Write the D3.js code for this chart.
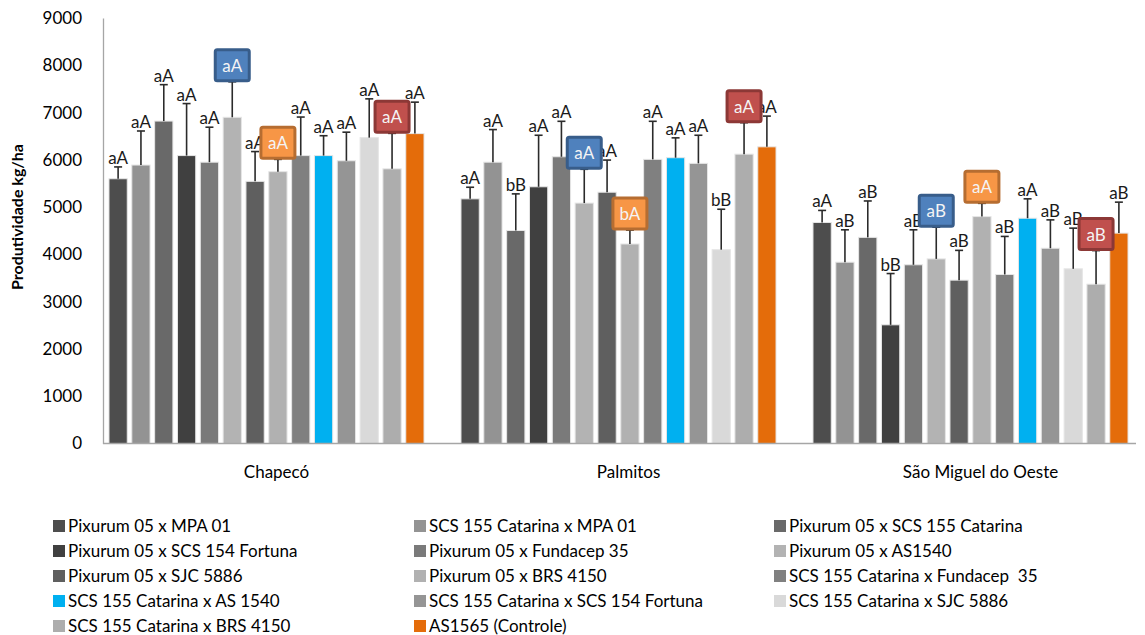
<!DOCTYPE html>
<html>
<head>
<meta charset="utf-8">
<script src="https://cdn.jsdelivr.net/npm/d3@7"></script>
<style>
  body { margin: 0; background: #fff; }
  svg { font-family: Lato, "Open Sans", sans-serif; }
  .leg text { white-space: pre; }
</style>
</head>
<body>
<svg id="chart" width="1145" height="635"></svg>
<script>
// locations on the x axis
var locations = ["Chapecó", "Palmitos", "São Miguel do Oeste"];

// crosses (series), in legend order
var cultivars = [
  "Pixurum 05 x MPA 01", "SCS 155 Catarina x MPA 01", "Pixurum 05 x SCS 155 Catarina",
  "Pixurum 05 x SCS 154 Fortuna", "Pixurum 05 x Fundacep 35", "Pixurum 05 x AS1540",
  "Pixurum 05 x SJC 5886", "Pixurum 05 x BRS 4150", "SCS 155 Catarina x Fundacep  35",
  "SCS 155 Catarina x AS 1540", "SCS 155 Catarina x SCS 154 Fortuna", "SCS 155 Catarina x SJC 5886",
  "SCS 155 Catarina x BRS 4150", "AS1565 (Controle)"
];

var colors = ["#4d4d4d", "#939393", "#696969", "#404040", "#7a7a7a", "#b3b3b3", "#5f5f5f",
              "#b1b1b1", "#808080", "#00b0f0", "#959595", "#d9d9d9", "#adadad", "#e46c0a"];

// mean yield kg/ha
var chapecoMeans  = [5600, 5890, 6820, 6090, 5950, 6900, 5545, 5750, 6090, 6090, 5980, 6470, 5810, 6555];
var palmitosMeans = [5175, 5950, 4505, 5430, 6065, 5085, 5315, 4220, 6010, 6045, 5925, 4100, 6120, 6275];
var smoMeans      = [4675, 3835, 4360, 2510, 3780, 3905, 3455, 4800, 3575, 4765, 4130, 3695, 3370, 4450];

// error bar (plus side)
var chapecoErr  = [250, 720, 770, 1100, 740, 750, 630, 260, 815, 420, 605, 820, 750, 665];
var palmitosErr = [245, 690, 775, 1090, 750, 715, 680, 295, 805, 420, 595, 855, 665, 650];
var smoErr      = [255, 685, 770, 1085, 740, 670, 630, 280, 805, 410, 600, 860, 710, 655];

// significance letters
var chapecoLetters  = ["aA","aA","aA","aA","aA","aA","aA","aA","aA","aA","aA","aA","aA","aA"];
var palmitosLetters = ["aA","aA","bB","aA","aA","aA","aA","bA","aA","aA","aA","bB","aA","aA"];
var smoLetters      = ["aA","aB","aB","bB","aB","aB","aB","aA","aB","aA","aB","aB","aB","aB"];

// highlighted labels (series index -> box colours)
var boxedSeries = [5, 7, 12];
var boxFill   = ["#4f81bd", "#f79646", "#c0504d"];
var boxStroke = ["#385d8a", "#b66d31", "#8c3836"];

var yTicks = [0, 1000, 2000, 3000, 4000, 5000, 6000, 7000, 8000, 9000];

var means = [chapecoMeans, palmitosMeans, smoMeans];
var errs = [chapecoErr, palmitosErr, smoErr];
var letters = [chapecoLetters, palmitosLetters, smoLetters];

var rows = [];
locations.forEach(function(loc, li) {
  cultivars.forEach(function(c, ci) {
    rows.push({loc: loc, ci: ci, name: c, v: means[li][ci], e: errs[li][ci], lab: letters[li][ci]});
  });
});

var svg = d3.select("#chart");
svg.append("rect").attr("width", 1145).attr("height", 635).attr("fill", "#fff");

var y = d3.scaleLinear().domain([0, 9000]).range([443.5, 18]);

var x0 = d3.scaleBand().domain(locations).range([90.5, 1146.5]).paddingInner(0.105).paddingOuter(0.0525);
var x1 = d3.scaleBand().domain(d3.range(cultivars.length)).range([0, x0.bandwidth()]).paddingInner(0.2);

// y axis
var yAxis = svg.append("g")
  .attr("transform", "translate(103,0)")
  .call(d3.axisLeft(y).tickValues(yTicks).tickFormat(d3.format("d")).tickSize(0).tickSizeOuter(0).tickPadding(21));
yAxis.select(".domain").attr("stroke", "#a6a6a6").attr("stroke-width", 1.3);
yAxis.selectAll("text").attr("font-size", 17).attr("fill", "#000").attr("font-family", "Lato");

svg.append("text")
  .attr("transform", "translate(23,217) rotate(-90)")
  .attr("text-anchor", "middle")
  .attr("font-size", 16)
  .attr("font-weight", "bold")
  .text("Produtividade kg/ha");

// bars
var bars = svg.append("g");
bars.selectAll("rect").data(rows).enter().append("rect")
  .attr("x", function(d) { return x0(d.loc) + x1(d.ci); })
  .attr("y", function(d) { return y(d.v); })
  .attr("width", x1.bandwidth())
  .attr("height", function(d) { return y(0) - y(d.v); })
  .attr("fill", function(d) { return colors[d.ci]; })
  .attr("stroke", "#e6e6e6")
  .attr("stroke-width", 1);

// error bars
var eb = svg.append("g").attr("stroke", "#2b2b2b").attr("stroke-width", 1.6);
eb.selectAll("line.v").data(rows).enter().append("line")
  .attr("x1", function(d) { return x0(d.loc) + x1(d.ci) + x1.bandwidth() / 2; })
  .attr("x2", function(d) { return x0(d.loc) + x1(d.ci) + x1.bandwidth() / 2; })
  .attr("y1", function(d) { return y(d.v); })
  .attr("y2", function(d) { return y(d.v + d.e); });
eb.selectAll("line.cap").data(rows).enter().append("line")
  .attr("x1", function(d) { return x0(d.loc) + x1(d.ci) + x1.bandwidth() / 2 - 4; })
  .attr("x2", function(d) { return x0(d.loc) + x1(d.ci) + x1.bandwidth() / 2 + 4; })
  .attr("y1", function(d) { return y(d.v + d.e); })
  .attr("y2", function(d) { return y(d.v + d.e); });

// x axis line
svg.append("line").attr("x1", 103).attr("x2", 1136).attr("y1", y(0)).attr("y2", y(0))
  .attr("stroke", "#a6a6a6").attr("stroke-width", 1.3);

// category labels (offset like in the original)
var xAxis = svg.append("g")
  .attr("transform", "translate(10," + (y(0) + 22) + ")")
  .call(d3.axisBottom(x0).tickSize(0).tickPadding(0));
xAxis.select(".domain").remove();
xAxis.selectAll("text").attr("font-size", 17).attr("fill", "#000").attr("font-family", "Lato");

// plain letter labels
var plain = rows.filter(function(d) { return boxedSeries.indexOf(d.ci) < 0; });
svg.append("g").selectAll("text").data(plain).enter().append("text")
  .attr("x", function(d) { return x0(d.loc) + x1(d.ci) + x1.bandwidth() / 2; })
  .attr("y", function(d) { return y(d.v + d.e) - 3; })
  .attr("text-anchor", "middle")
  .attr("font-size", 17)
  .attr("fill", "#1a1a1a")
  .text(function(d) { return d.lab; });

// boxed labels
var boxed = rows.filter(function(d) { return boxedSeries.indexOf(d.ci) >= 0; });
var bg = svg.append("g").selectAll("g").data(boxed).enter().append("g")
  .attr("transform", function(d) {
    return "translate(" + (x0(d.loc) + x1(d.ci) + x1.bandwidth() / 2) + "," + y(d.v + d.e) + ")";
  });
bg.append("rect")
  .attr("x", -17).attr("y", -32).attr("width", 34).attr("height", 31).attr("rx", 2)
  .attr("fill", function(d) { return boxFill[boxedSeries.indexOf(d.ci)]; })
  .attr("stroke", function(d) { return boxStroke[boxedSeries.indexOf(d.ci)]; })
  .attr("stroke-width", 3);
bg.append("text")
  .attr("y", -10)
  .attr("text-anchor", "middle")
  .attr("font-size", 17)
  .attr("fill", "#f4f4f4")
  .text(function(d) { return d.lab; });

// legend
var legX = [53, 414, 774];
var legend = svg.append("g").attr("class", "leg").selectAll("g").data(cultivars).enter().append("g")
  .attr("transform", function(d, i) { return "translate(" + legX[i % 3] + "," + (526 + Math.floor(i / 3) * 25) + ")"; });
legend.append("rect").attr("x", 0).attr("y", -6).attr("width", 12).attr("height", 12)
  .attr("fill", function(d, i) { return colors[i]; });
legend.append("text").attr("x", 15).attr("y", 6)
  .attr("font-size", 17)
  .attr("fill", "#000")
  .text(function(d) { return d; });
</script>
</body>
</html>
